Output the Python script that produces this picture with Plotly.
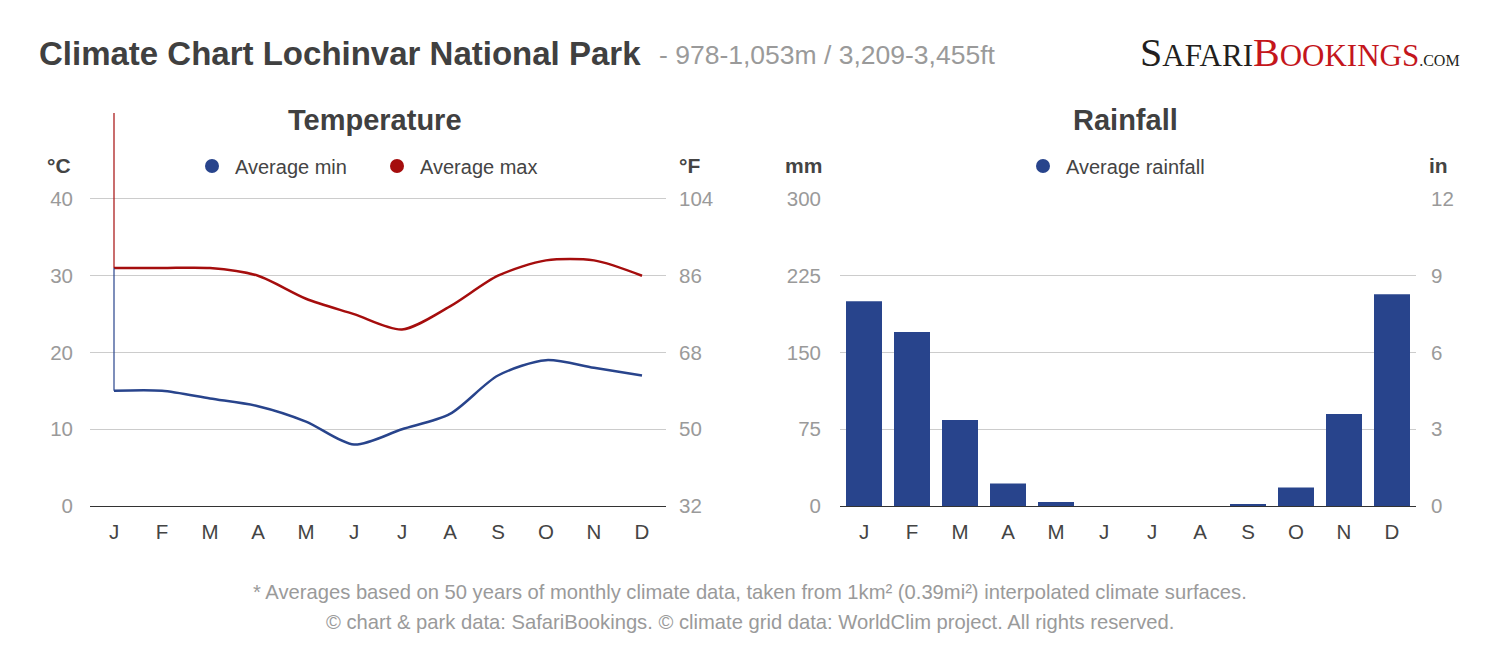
import plotly.graph_objects as go

# 月ラベル
months = ["J", "F", "M", "A", "M", "J", "J", "A", "S", "O", "N", "D"]
month_keys = [f"{m}{i}" for i, m in enumerate(months)]

# 気温 (°C)
temp_min = [15, 15, 14, 13, 11, 8, 10, 12, 17, 19, 18, 17]
temp_max = [31, 31, 31, 30, 27, 25, 23, 26, 30, 32, 32, 30]

# 降水量 (mm)
rainfall_mm = [200, 170, 84, 22, 4, 0, 0, 0, 1, 18, 90, 207]

# 目盛
temp_c_ticks = [0, 10, 20, 30, 40]
temp_f_ticks = [32, 50, 68, 86, 104]
rain_mm_ticks = [0, 75, 150, 225, 300]
rain_in_ticks = [0, 3, 6, 9, 12]

BLUE = "#28448c"
RED = "#a50d0d"
GRID = "#cccccc"
TICK_GRAY = "#9a9a9a"
DARK = "#444444"
FONT = "Liberation Sans, Arial, sans-serif"

# ページ余白 (body margin 8px) 分を差し引く
PAGE_OFFSET = 8
W, H = 1500 - PAGE_OFFSET, 652 - PAGE_OFFSET
TEMP_TOP = 51.2  # 描画バグの縦線がここまで伸びる


def px_x(v):
    return (v - PAGE_OFFSET) / W


def px_y(v):
    return 1 - (v - PAGE_OFFSET) / H


def _temperature_traces(fig):
    fig.add_trace(go.Scatter(
        x=month_keys, y=temp_min, mode="lines", line=dict(color=BLUE, width=2.5, shape="spline", smoothing=0.8),
        showlegend=False, xaxis="x", yaxis="y",
        hovertemplate='%{y}°C<extra>Average min</extra>'
    ))
    fig.add_trace(go.Scatter(
        x=month_keys, y=temp_max, mode="lines", line=dict(color=RED, width=2.5, shape="spline", smoothing=0.8),
        showlegend=False, xaxis="x", yaxis="y",
        hovertemplate='%{y}°C<extra>Average max</extra>'
    ))
    # 先頭の縦線 (元グラフのまま)
    fig.add_trace(go.Scatter(
        x=[month_keys[0], month_keys[0]], y=[temp_max[0], TEMP_TOP], mode="lines",
        line=dict(color=RED, width=1.2), showlegend=False, hoverinfo="skip", xaxis="x", yaxis="y"
    ))
    fig.add_trace(go.Scatter(
        x=[month_keys[0], month_keys[0]], y=[temp_min[0], temp_max[0]], mode="lines",
        line=dict(color=BLUE, width=1.2), showlegend=False, hoverinfo="skip", xaxis="x", yaxis="y"
    ))
    # 凡例用
    for name, color in [("Average min", BLUE), ("Average max", RED)]:
        fig.add_trace(go.Scatter(
            x=[None], y=[None], mode="markers", name=name,
            marker=dict(color=color, size=14, symbol="circle"),
            legend="legend", xaxis="x", yaxis="y"
        ))
    # °F 軸用
    fig.add_trace(go.Scatter(
        x=month_keys, y=[t * 1.8 + 32 for t in temp_max], mode="lines", line=dict(width=0),
        showlegend=False, hoverinfo="skip", xaxis="x", yaxis="y2", opacity=0
    ))


def _rainfall_traces(fig):
    fig.add_trace(go.Bar(
        x=month_keys, y=rainfall_mm, marker=dict(color=BLUE, line=dict(width=0)),
        showlegend=False, xaxis="x2", yaxis="y3",
        hovertemplate='%{y} mm<extra>Average rainfall</extra>'
    ))
    fig.add_trace(go.Scatter(
        x=[None], y=[None], mode="markers", name="Average rainfall",
        marker=dict(color=BLUE, size=14, symbol="circle"),
        legend="legend2", xaxis="x2", yaxis="y3"
    ))
    fig.add_trace(go.Scatter(
        x=month_keys, y=[r / 25.4 for r in rainfall_mm], mode="lines", line=dict(width=0),
        showlegend=False, hoverinfo="skip", xaxis="x2", yaxis="y4", opacity=0
    ))


def _layout(fig):
    x_common = dict(
        type="category", categoryorder="array", categoryarray=month_keys,
        tickmode="array", tickvals=month_keys, ticktext=months,
        tickfont=dict(size=20.5, color=DARK, family=FONT), ticks="", showgrid=False,
        showline=False, zeroline=False, range=[-0.5, 11.5], ticklabelstandoff=11, fixedrange=True
    )
    y_left = dict(
        tickfont=dict(size=20.5, color=TICK_GRAY, family=FONT), ticks="", showline=False,
        gridcolor=GRID, gridwidth=1, zeroline=True, zerolinecolor="#333333", zerolinewidth=1.3,
        tickmode="array", fixedrange=True
    )
    y_right = dict(
        tickfont=dict(size=20.5, color=TICK_GRAY, family=FONT), ticks="", showline=False,
        showgrid=False, zeroline=False, side="right", tickmode="array", fixedrange=True
    )
    bottom = px_y(506)
    legend_common = dict(
        orientation="h", xanchor="left", yanchor="middle", entrywidth=134, itemwidth=36,
        font=dict(size=20, color=DARK, family=FONT), bgcolor="rgba(0,0,0,0)",
        itemclick=False, itemdoubleclick=False
    )

    fig.update_layout(
        width=W, height=H, margin=dict(l=0, r=0, t=0, b=0, autoexpand=False),
        paper_bgcolor="white", plot_bgcolor="white",
        font=dict(family=FONT, color=DARK),
        bargap=0.25,
        xaxis=dict(x_common, domain=[px_x(90), px_x(666)], anchor="y"),
        xaxis2=dict(x_common, domain=[px_x(840), px_x(1416)], anchor="y3"),
        yaxis=dict(y_left, domain=[bottom, px_y(113)], range=[0, TEMP_TOP], tickvals=temp_c_ticks,
                   anchor="x", ticklabelstandoff=16),
        yaxis2=dict(y_right, domain=[bottom, px_y(113)], range=[32, 32 + TEMP_TOP * 1.8],
                    tickvals=temp_f_ticks, overlaying="y", anchor="x", ticklabelstandoff=12),
        yaxis3=dict(y_left, domain=[bottom, px_y(199)], range=[0, 300], tickvals=rain_mm_ticks,
                    anchor="x2", ticklabelstandoff=18),
        yaxis4=dict(y_right, domain=[bottom, px_y(199)], range=[0, 12], tickvals=rain_in_ticks,
                    overlaying="y3", anchor="x2", ticklabelstandoff=14),
        legend=dict(legend_common, x=px_x(189), y=px_y(166)),
        legend2=dict(legend_common, x=px_x(1020), y=px_y(166)),
    )

    notes = [
        # 見出し
        dict(text="<b>Climate Chart Lochinvar National Park</b>", x=px_x(37), y=px_y(54),
             xanchor="left", font=dict(size=33, color="#404040")),
        dict(text="- 978-1,053m / 3,209-3,455ft", x=px_x(657), y=px_y(55),
             xanchor="left", font=dict(size=26.5, color=TICK_GRAY)),
        # ロゴ
        dict(text=("<span style='font-size:40px'>S</span>AFARI"
                   "<span style='color:#c4161c'><span style='font-size:40px'>B</span>OOKINGS</span>"
                   "<span style='font-size:16px'>.COM</span>"),
             x=px_x(1462), y=px_y(52), xanchor="right",
             font=dict(size=31, color="#231f20", family="Liberation Serif, DejaVu Serif, serif")),
        # サブプロット見出し
        dict(text="<b>Temperature</b>", x=px_x(375), y=px_y(120), font=dict(size=29, color="#404040")),
        dict(text="<b>Rainfall</b>", x=px_x(1125), y=px_y(120), font=dict(size=29, color="#404040")),
        # 単位
        dict(text="<b>°C</b>", x=px_x(59), y=px_y(165), font=dict(size=21, color=DARK)),
        dict(text="<b>°F</b>", x=px_x(689), y=px_y(165), font=dict(size=21, color=DARK)),
        dict(text="<b>mm</b>", x=px_x(803), y=px_y(165), font=dict(size=21, color=DARK)),
        dict(text="<b>in</b>", x=px_x(1438), y=px_y(165), font=dict(size=21, color=DARK)),
        # 注記
        dict(text="* Averages based on 50 years of monthly climate data, taken from 1km² (0.39mi²) interpolated climate surfaces.",
             x=px_x(750), y=px_y(592), font=dict(size=20.2, color=TICK_GRAY)),
        dict(text="© chart & park data: SafariBookings. © climate grid data: WorldClim project. All rights reserved.",
             x=px_x(750), y=px_y(622), font=dict(size=20.2, color=TICK_GRAY)),
    ]
    for n in notes:
        n.setdefault("xanchor", "center")
        fig.add_annotation(xref="paper", yref="paper", yanchor="middle", showarrow=False, **n)


fig = go.Figure()
_temperature_traces(fig)
_rainfall_traces(fig)
_layout(fig)

fig.write_html("out.html")
